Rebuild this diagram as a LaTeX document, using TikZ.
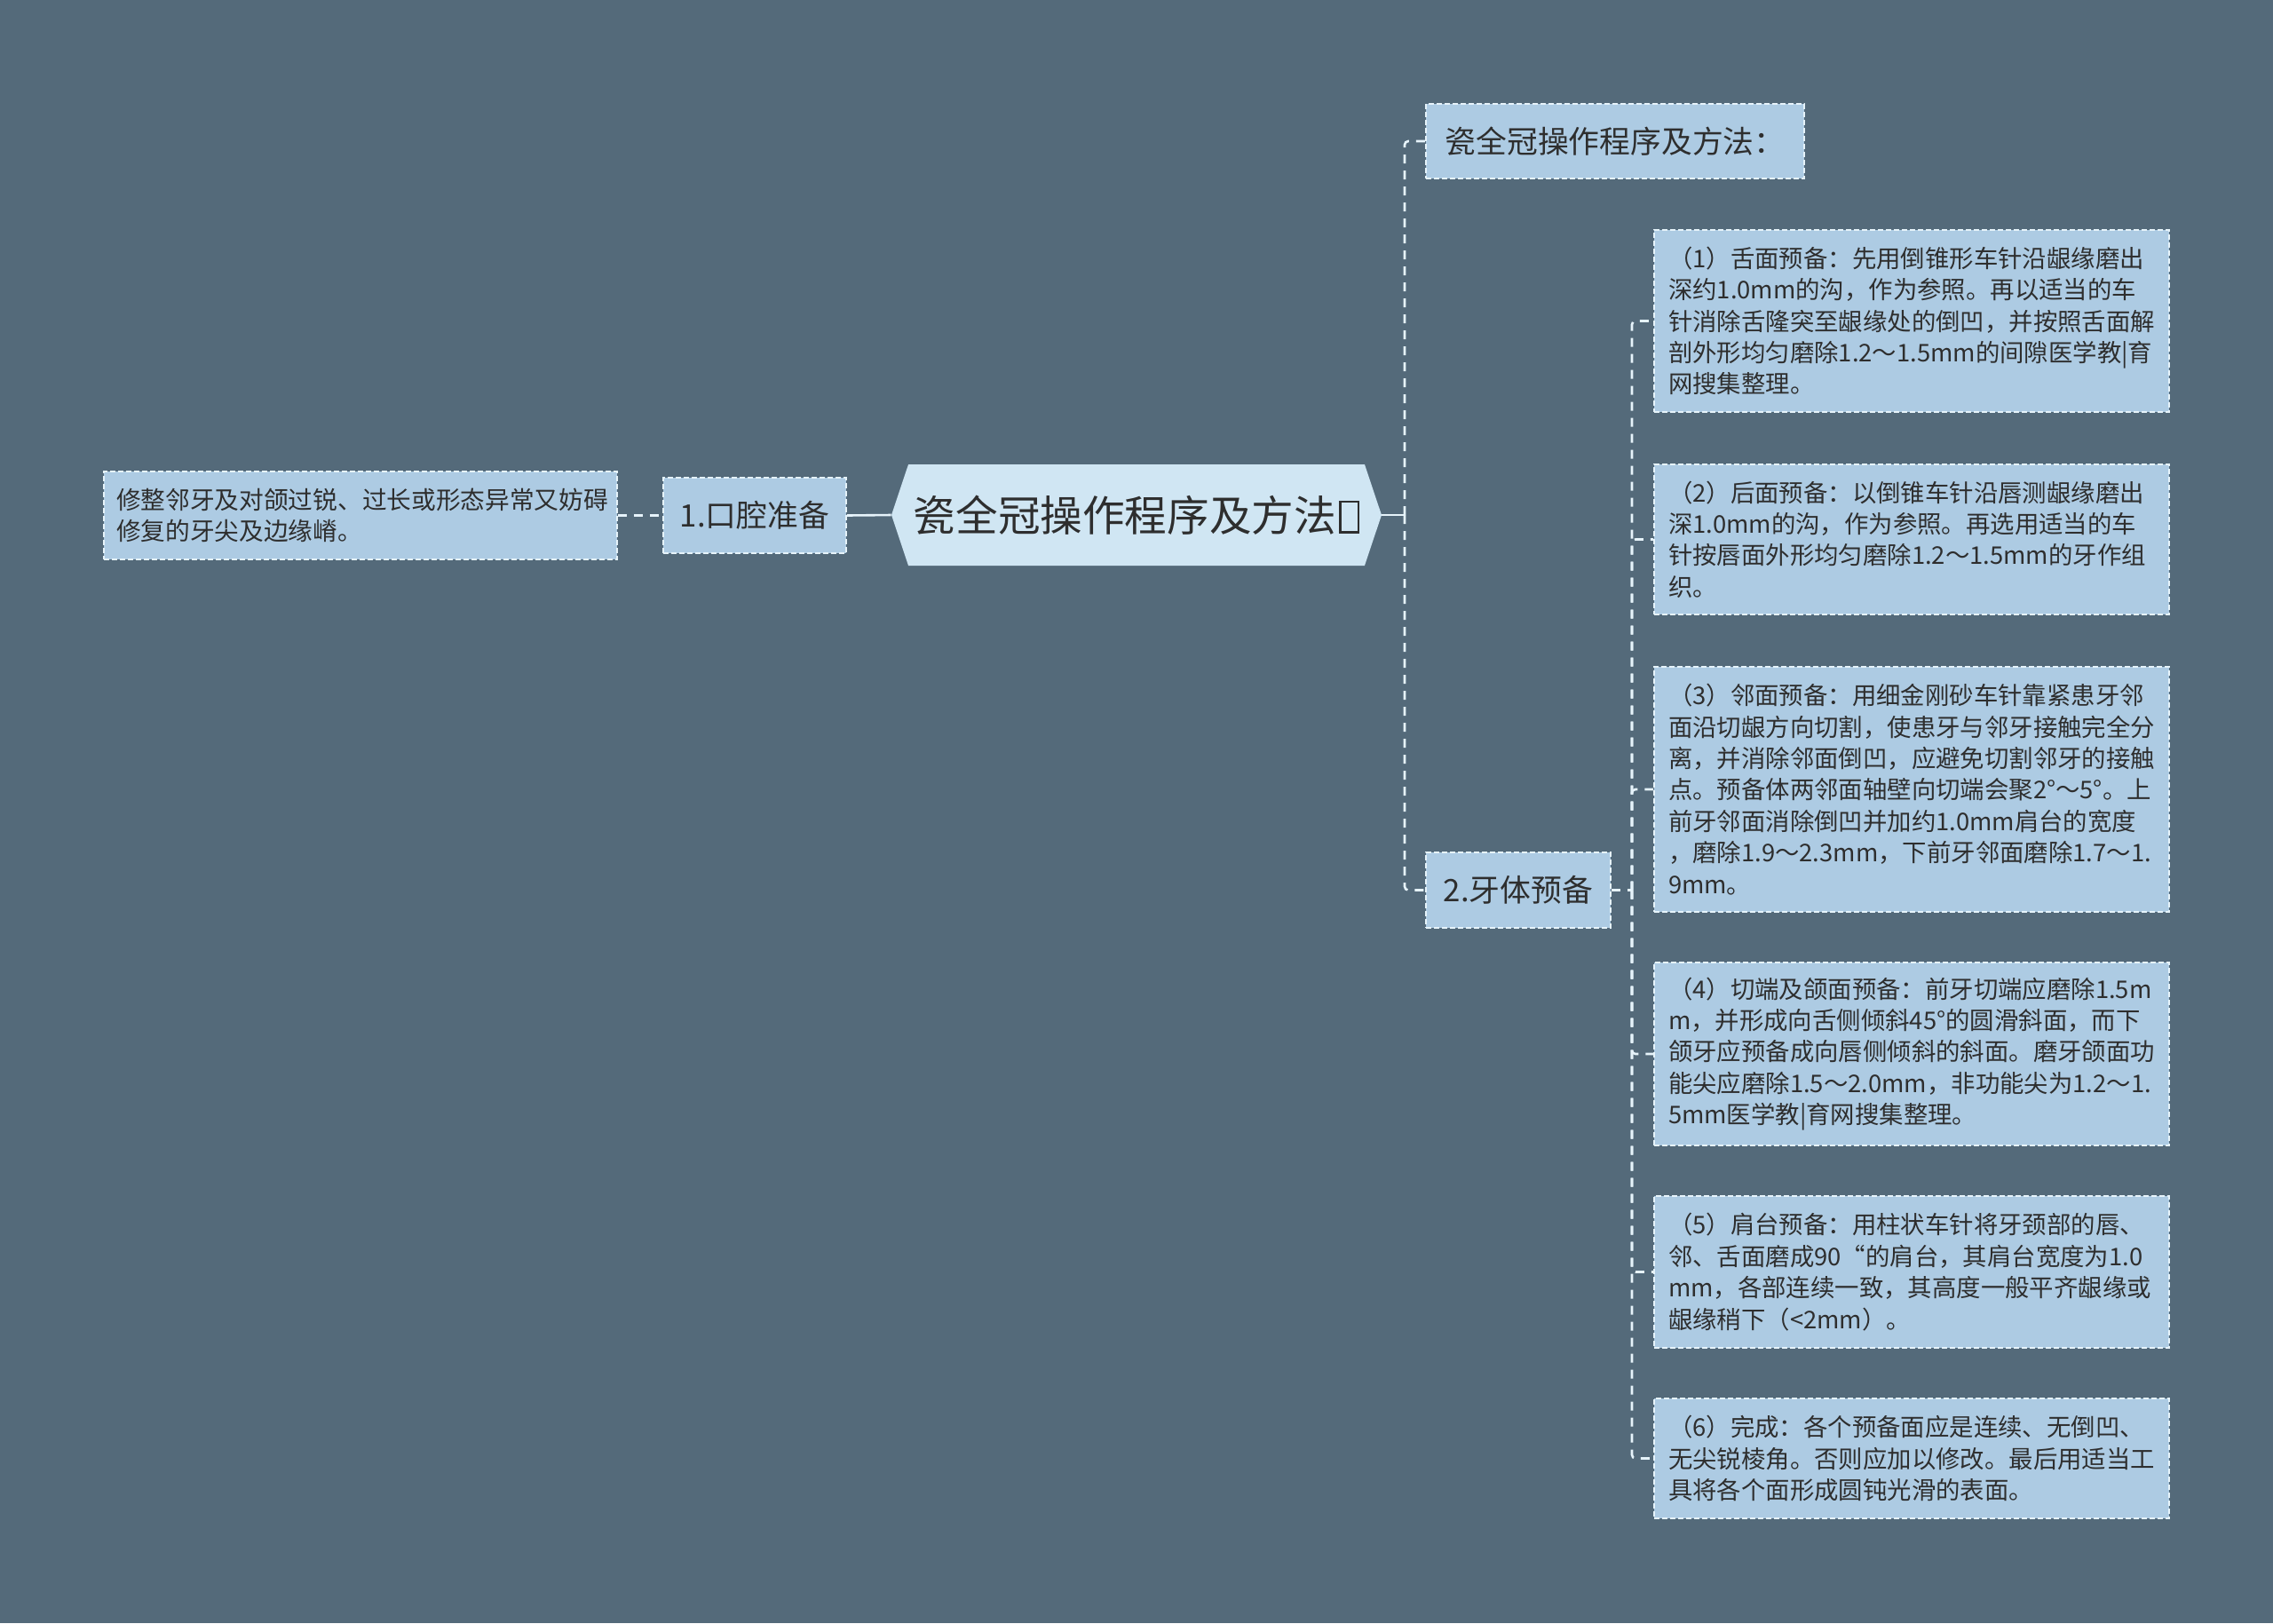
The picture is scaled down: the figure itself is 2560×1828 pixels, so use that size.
\documentclass[tikz,border=0pt]{standalone}
\usepackage{fontspec}
\setmainfont{Noto Sans CJK SC}
\usetikzlibrary{shapes.symbols}
\definecolor{bgslate}{HTML}{546A7A}
\definecolor{boxblue}{HTML}{ADCBE3}
\definecolor{rootblue}{HTML}{D0E6F3}
\definecolor{edgewhite}{HTML}{E6F3FA}
\definecolor{inkgrey}{HTML}{2E2E2E}
\newcommand\tofumark{\hspace{1.5pt}{\fboxsep0pt\fboxrule1.3pt\fbox{\rule{0pt}{16pt}\hspace{9pt}}}}
\begin{document}
\begin{tikzpicture}[x=0.5pt,y=-0.5pt,
    leaf/.style={draw=edgewhite,fill=boxblue,line width=0.8pt,dash pattern=on 3pt off 1.5pt,
      text=inkgrey,font=\fontsize{13.7}{17.7}\selectfont,text width=274pt,inner xsep=8pt,align=left},
    branch/.style={draw=edgewhite,fill=boxblue,line width=0.8pt,dash pattern=on 3pt off 1.5pt,
      text=inkgrey,font=\fontsize{17.4}{21}\selectfont,inner sep=0pt},
    root/.style={signal,signal to=east and west,signal pointer angle=143,fill=rootblue,
      text=inkgrey,font=\fontsize{23.8}{27}\selectfont,inner sep=0pt,minimum width=276pt,minimum height=57pt},
    solidlink/.style={draw=edgewhite,line width=1.3pt},
    dashlink/.style={draw=edgewhite,line width=1.3pt,dash pattern=on 5pt off 4pt,rounded corners=2pt}]
  \fill[bgslate] (0,0) rectangle (2560,1828);
  \useasboundingbox (0,0) rectangle (2560,1828);

  % centre and left side
  \node[root] (root) at (1280,580) {瓷全冠操作程序及方法\tofumark};
  \node[branch,minimum width=103pt,minimum height=42.5pt] (oral) at (850,580.5) {1.口腔准备};
  \node[leaf,font=\fontsize{13.85}{17.5}\selectfont,text width=275pt,inner xsep=7pt,minimum height=49.5pt] (trim) at (406,580.5)
    {修整邻牙及对颌过锐、过长或形态异常又妨碍\\修复的牙尖及边缘嵴。};

  % right side
  \node[branch,minimum width=213pt,minimum height=42pt] (method) at (1819,159) {瓷全冠操作程序及方法：};
  \node[branch,minimum width=104pt,minimum height=42.5pt] (tooth) at (1710,1002.5) {2.牙体预备};

  \node[leaf,minimum height=102.5pt] (prep1) at (2153,361.5)
    {（1）舌面预备：先用倒锥形车针沿龈缘磨出\\深约1.0mm的沟，作为参照。再以适当的车\\针消除舌隆突至龈缘处的倒凹，并按照舌面解\\剖外形均匀磨除1.2～1.5mm的间隙医学教|育\\网搜集整理。};
  \node[leaf,minimum height=84.5pt] (prep2) at (2153,607.5)
    {（2）后面预备：以倒锥车针沿唇测龈缘磨出\\深1.0mm的沟，作为参照。再选用适当的车\\针按唇面外形均匀磨除1.2～1.5mm的牙作组\\织。};
  \node[leaf,minimum height=138pt] (prep3) at (2153,889)
    {（3）邻面预备：用细金刚砂车针靠紧患牙邻\\面沿切龈方向切割，使患牙与邻牙接触完全分\\离，并消除邻面倒凹，应避免切割邻牙的接触\\点。预备体两邻面轴壁向切端会聚2°～5°。上\\前牙邻面消除倒凹并加约1.0mm肩台的宽度\\，磨除1.9～2.3mm，下前牙邻面磨除1.7～1.\\9mm。};
  \node[leaf,minimum height=103pt] (prep4) at (2153,1187)
    {（4）切端及颌面预备：前牙切端应磨除1.5m\\m，并形成向舌侧倾斜45°的圆滑斜面，而下\\颌牙应预备成向唇侧倾斜的斜面。磨牙颌面功\\能尖应磨除1.5～2.0mm，非功能尖为1.2～1.\\5mm医学教|育网搜集整理。};
  \node[leaf,minimum height=85.5pt] (prep5) at (2153,1432.5)
    {（5）肩台预备：用柱状车针将牙颈部的唇、\\邻、舌面磨成90“的肩台，其肩台宽度为1.0\\mm，各部连续一致，其高度一般平齐龈缘或\\龈缘稍下（<2mm）。};
  \node[leaf,minimum height=67.5pt] (prep6) at (2153,1642.5)
    {（6）完成：各个预备面应是连续、无倒凹、\\无尖锐棱角。否则应加以修改。最后用适当工\\具将各个面形成圆钝光滑的表面。};

  % connectors
  \draw[dashlink] (trim.east) -- (oral.west);
  \draw[solidlink] (oral.east) -- (root.west);
  \coordinate (trunk) at (1582,580);
  \draw[solidlink] (root.east) -- (trunk);
  \draw[dashlink] (trunk) |- (method.west);
  \draw[dashlink] (trunk) |- (tooth.west);
  \coordinate (subtrunk) at (1838,1002.5);
  \draw[dashlink] (tooth.east) -- (subtrunk);
  \foreach \n in {1,...,6}
    \draw[dashlink] (subtrunk) |- (prep\n.west);
\end{tikzpicture}
\end{document}
